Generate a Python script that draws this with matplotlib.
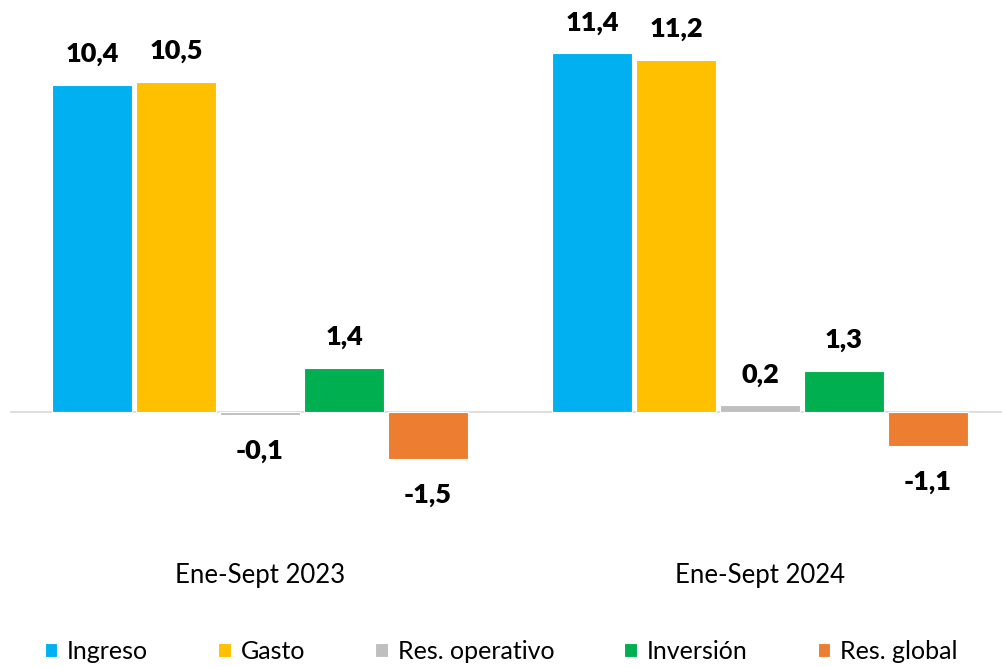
import matplotlib.pyplot as plt
import numpy as np

# data
periods = ["Ene-Sept 2023", "Ene-Sept 2024"]
series = ["Ingreso", "Gasto", "Res. operativo", "Inversión", "Res. global"]
ingreso = [10.4, 11.4]
gasto = [10.5, 11.2]
res_operativo = [-0.1, 0.2]
inversion = [1.4, 1.3]
res_global = [-1.5, -1.1]
colors = ["#00b0f0", "#ffc000", "#bfbfbf", "#00b050", "#ed7d31"]

plt.rcParams['font.family'] = ['Lato', 'DejaVu Sans']

fig = plt.figure(figsize=(10.02, 6.67), dpi=100)
ax = fig.add_axes([0.01, 0.218, 0.998, 0.781])

x = np.arange(len(periods))
width = 0.16
step = 0.168
values = [ingreso, gasto, res_operativo, inversion, res_global]

for i, (name, vals, col) in enumerate(zip(series, values, colors)):
    pos = x + (i - 2) * step
    ax.bar(pos, vals, width, color=col, label=name, edgecolor="white", linewidth=0.8)
    for p, v in zip(pos, vals):
        txt = f"{v:.1f}".replace(".", ",")
        off = 22 if v >= 0 else -26
        ax.annotate(txt, (p, v), xytext=(0, off), textcoords="offset points",
                    ha="center", va="center", fontsize=19.5, fontweight="heavy")

ax.axhline(0, color="#d9d9d9", linewidth=1.2, zorder=0)
ax.set_xlim(-0.5, 1.5)
ax.set_ylim(-3.5, 13.08)
for s in ax.spines.values():
    s.set_visible(False)
ax.set_yticks([])
ax.set_xticks([])

for xi, lab in zip(x, periods):
    ax.text(xi, -5.2, lab, ha="center", va="center", fontsize=18.5, clip_on=False)

fig.legend(loc="center", bbox_to_anchor=(0.5, 0.023), ncol=5, frameon=False,
           fontsize=18, handlelength=0.5, handleheight=0.5, handletextpad=0.4,
           columnspacing=2.8)

fig.savefig("out.png", dpi=100)
